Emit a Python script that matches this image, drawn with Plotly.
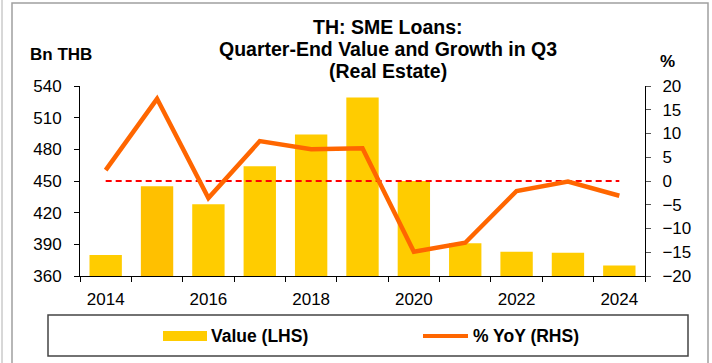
import plotly.graph_objects as go

# Quarter-end (Q3) SME loans to real estate, Thailand
years = [2014, 2015, 2016, 2017, 2018, 2019, 2020, 2021, 2022, 2023, 2024]
value_bn_thb = [380, 445, 428, 464, 494, 529, 450, 391, 383, 382, 370]
yoy_pct = [2.3, 17.3, -3.6, 8.4, 6.7, 6.9, -14.9, -13.0, -2.1, -0.1, -3.1]
bar_colors = ["#FFCC00", "#FFC000", "#FFCC00", "#FFCC00", "#FFCC00", "#FFCC00",
              "#FFCC00", "#FFCC00", "#FFCC00", "#FFCC00", "#FFCC00"]

left_ticks = [360, 390, 420, 450, 480, 510, 540]
right_ticks = [-20, -15, -10, -5, 0, 5, 10, 15, 20]
x_label_years = [2014, 2016, 2018, 2020, 2022, 2024]

title_lines = ["TH: SME Loans:", "Quarter-End Value and Growth in Q3", "(Real Estate)"]

W, H = 712, 363
ML, MR, MT, MB = 80, 67, 86, 87
PW, PH = W - ML - MR, H - MT - MB
FONT = "Liberation Sans, Arial, sans-serif"


def px_x(px):
    return (px - ML) / PW


def px_y(py):
    return (H - MB - py) / PH


fig = go.Figure()

fig.add_trace(go.Bar(
    x=years, y=value_bn_thb, name="Value (LHS)",
    marker=dict(color=bar_colors, line=dict(width=0)),
    width=0.63, yaxis="y", showlegend=False,
))

fig.add_trace(go.Scatter(
    x=[years[0], years[-1]], y=[0, 0], mode="lines",
    line=dict(color="#FF0000", width=2, dash="6px,4px"),
    yaxis="y2", showlegend=False, hoverinfo="skip",
))

fig.add_trace(go.Scatter(
    x=years, y=yoy_pct, name="% YoY (RHS)", mode="lines",
    line=dict(color="#FF6600", width=4.5),
    yaxis="y2", showlegend=False,
))

tick_font = dict(family=FONT, size=17, color="black")

fig.update_layout(
    width=W, height=H,
    margin=dict(l=ML, r=MR, t=MT, b=MB, pad=0),
    paper_bgcolor="white", plot_bgcolor="white",
    showlegend=False,
    xaxis=dict(
        range=[2013.5, 2024.5],
        tickmode="array", tickvals=x_label_years,
        ticks="", showgrid=False, zeroline=False,
        showline=True, linecolor="black", linewidth=1,
        tickfont=tick_font, ticklabelstandoff=8,
        minor=dict(tickmode="linear", tick0=2013.5, dtick=1,
                   ticks="outside", ticklen=5, tickcolor="black", showgrid=False),
    ),
    yaxis=dict(
        range=[360, 540], tickmode="array", tickvals=left_ticks,
        ticks="outside", ticklen=5, tickcolor="black",
        showgrid=False, zeroline=False,
        showline=True, linecolor="black", linewidth=1,
        tickfont=tick_font, ticklabelstandoff=9,
    ),
    yaxis2=dict(
        range=[-20, 20], tickmode="array", tickvals=right_ticks,
        overlaying="y", side="right", anchor="x",
        ticks="outside", ticklen=5, tickcolor="#555555",
        showgrid=False, zeroline=False,
        showline=True, linecolor="black", linewidth=1,
        tickfont=tick_font, ticklabelstandoff=8,
    ),
)

shapes = []
# outer frame of the chart panel
shapes.append(dict(type="line", xref="paper", yref="paper",
                   x0=px_x(2), x1=px_x(2), y0=px_y(0), y1=px_y(H + 5),
                   line=dict(color="#B0B0B0", width=1)))
shapes.append(dict(type="rect", xref="paper", yref="paper",
                   x0=px_x(12), x1=px_x(708), y0=px_y(3), y1=px_y(H + 10),
                   line=dict(color="#A0A0A0", width=1.5), layer="below"))
# legend box and swatches
shapes.append(dict(type="rect", xref="paper", yref="paper",
                   x0=px_x(48), x1=px_x(688), y0=px_y(315), y1=px_y(356),
                   line=dict(color="#444444", width=1.5)))
shapes.append(dict(type="rect", xref="paper", yref="paper",
                   x0=px_x(163), x1=px_x(207), y0=px_y(331), y1=px_y(341),
                   line=dict(width=0), fillcolor="#FFCC00"))
shapes.append(dict(type="line", xref="paper", yref="paper",
                   x0=px_x(423), x1=px_x(468), y0=px_y(336), y1=px_y(336),
                   line=dict(color="#FF6600", width=4)))
fig.update_layout(shapes=shapes)

title_font = dict(family=FONT, size=19.5, color="black")
label_font = dict(family=FONT, size=17, color="black")
legend_font = dict(family=FONT, size=17.5, color="black")

annotations = []
# three-line chart title
for i, line in enumerate(title_lines):
    annotations.append(dict(text="<b>%s</b>" % line, x=px_x(388), y=px_y(27 + 22 * i),
                            xanchor="center", yanchor="middle", font=title_font))
annotations += [
    dict(text="<b>Bn THB</b>", x=px_x(61), y=px_y(55), xanchor="center", yanchor="middle",
         font=label_font),
    dict(text="<b>%</b>", x=px_x(667), y=px_y(61), xanchor="center", yanchor="middle",
         font=label_font),
    dict(text="<b>Value (LHS)</b>", x=px_x(209), y=px_y(336), xanchor="left", yanchor="middle",
         font=legend_font),
    dict(text="<b>% YoY (RHS)</b>", x=px_x(471), y=px_y(336), xanchor="left", yanchor="middle",
         font=legend_font),
]
for a in annotations:
    a.update(xref="paper", yref="paper", showarrow=False)
fig.update_layout(annotations=annotations)

fig.write_html("out.html")
